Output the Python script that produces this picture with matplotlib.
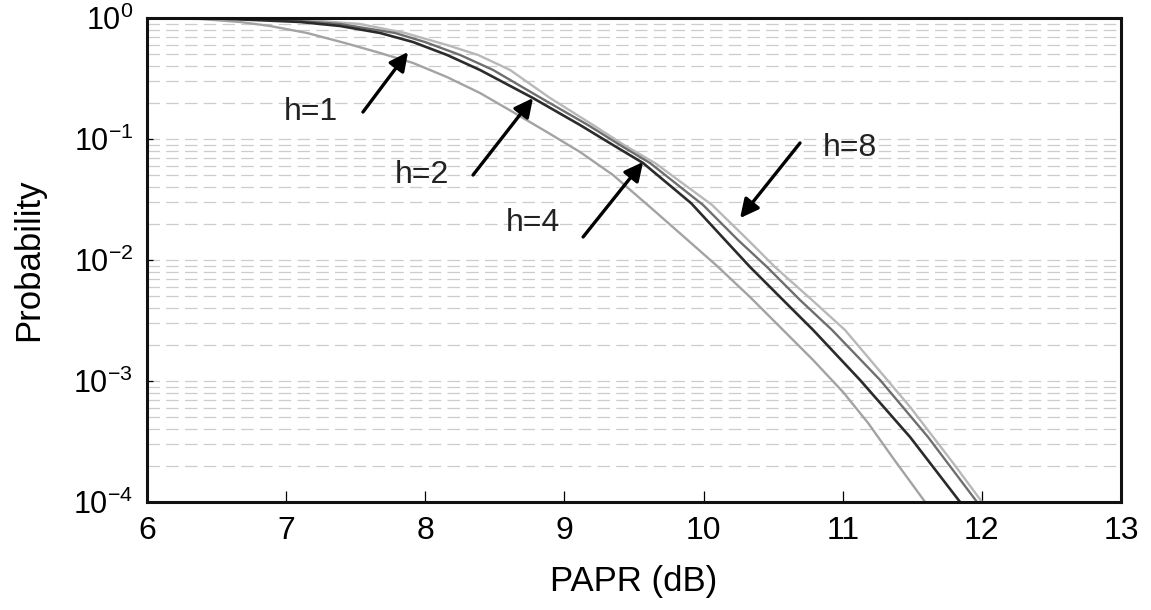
import matplotlib
matplotlib.use('Agg')
import matplotlib.pyplot as plt
from matplotlib.ticker import LogLocator, NullFormatter

plt.rcParams['font.family'] = ['Liberation Sans', 'DejaVu Sans']

# curves: PAPR (dB) and probability
papr_a = [6.000, 6.381, 6.668, 6.884, 7.150, 7.423, 7.675, 7.912, 8.156, 8.393,
          8.630, 8.875, 9.112, 9.349, 9.615, 9.852, 10.097, 10.334, 10.571,
          10.787, 11.002, 11.182, 11.361, 11.592]
prob_a = [1.0, 0.981, 0.927, 0.859, 0.752, 0.621, 0.514, 0.425, 0.325, 0.240,
          0.167, 0.114, 0.0781, 0.0504, 0.0274, 0.0158, 0.00892, 0.00494,
          0.00264, 0.00149, 0.000811, 0.000450, 0.000231, 1e-4]

papr_b = [6.000, 6.525, 7.100, 7.387, 7.675, 7.912, 8.156, 8.393, 8.774, 9.112,
          9.349, 9.565, 9.910, 10.155, 10.334, 10.571, 10.787, 11.124, 11.484, 11.843]
prob_b = [1.0, 0.990, 0.927, 0.859, 0.752, 0.633, 0.495, 0.372, 0.218, 0.1305,
          0.0892, 0.0633, 0.0295, 0.0146, 0.00875, 0.00467, 0.00264, 0.00102,
          0.000344, 1e-4]

papr_c = [6.000, 6.668, 7.100, 7.387, 7.782, 7.998, 8.250, 8.487, 8.832, 9.169,
          9.399, 9.615, 9.996, 10.248, 10.456, 10.693, 10.923, 11.268, 11.613, 11.965]
prob_c = [1.0, 0.990, 0.944, 0.892, 0.752, 0.633, 0.495, 0.372, 0.218, 0.1305,
          0.0892, 0.0633, 0.0285, 0.0146, 0.00875, 0.00467, 0.00264, 0.00102,
          0.000344, 1e-4]

papr_d = [6.000, 6.812, 7.243, 7.531, 7.854, 8.156, 8.379, 8.609, 8.897, 9.206,
          9.428, 9.651, 10.061, 10.320, 10.513, 10.779, 11.016, 11.484, 11.793, 12.001]
prob_d = [1.0, 0.990, 0.944, 0.892, 0.752, 0.598, 0.495, 0.372, 0.218, 0.1305,
          0.0892, 0.0633, 0.0285, 0.0146, 0.00875, 0.00467, 0.00264, 0.000610,
          0.000210, 1e-4]

# arrow labels: text, text position, arrow tail, arrow tip
labels = ['h=1', 'h=2', 'h=4', 'h=8']
text_pos = [(7.179, 0.167), (7.976, 0.0504), (8.774, 0.0202), (11.052, 0.0843)]
tails = [(7.552, 0.167), (8.343, 0.0504), (9.134, 0.0155), (10.693, 0.0927)]
tips = [(7.876, 0.524), (8.774, 0.218), (9.565, 0.0646), (10.262, 0.0222)]

x_ticks = [6, 7, 8, 9, 10, 11, 12, 13]

fig = plt.figure(figsize=(11.51, 6.10), dpi=100)
ax = fig.add_axes([0.1277, 0.177, 0.8463, 0.7935])

ax.plot(papr_a, prob_a, color='#a3a3a3', lw=1.7)
ax.plot(papr_d, prob_d, color='#b8b8b8', lw=1.7)
ax.plot(papr_c, prob_c, color='#6e6e6e', lw=1.7)
ax.plot(papr_b, prob_b, color='#2b2b2b', lw=1.9)

ax.set_yscale('log')
ax.set_xlim(6, 13)
ax.set_ylim(1e-4, 1)
ax.set_xticks(x_ticks)
ax.yaxis.set_major_locator(LogLocator(base=10, numticks=10))
ax.yaxis.set_minor_locator(LogLocator(base=10, subs=range(2, 10), numticks=100))
ax.yaxis.set_minor_formatter(NullFormatter())

ax.grid(True, axis='y', which='both', color='#cccccc', lw=0.9, ls=(0, (10, 5)))
ax.set_axisbelow(True)

ax.tick_params(axis='x', which='major', direction='in', length=8, width=0.9,
               labelsize=23, pad=10)
ax.tick_params(axis='y', which='major', direction='in', length=4, width=0.9,
               labelsize=22, pad=10)
ax.tick_params(axis='y', which='minor', length=0)
for s in ax.spines.values():
    s.set_linewidth(2.2)
    s.set_color('#111111')

ax.set_xlabel('PAPR (dB)', fontsize=25, labelpad=14)
ax.set_ylabel('Probability', fontsize=25, labelpad=20)

for lab, tp, tl, tip in zip(labels, text_pos, tails, tips):
    ax.annotate('', xy=tip, xytext=tl,
                arrowprops=dict(arrowstyle='-|>', color='black', lw=2.4,
                                mutation_scale=28, shrinkA=0, shrinkB=0))
    ax.text(tp[0], tp[1], lab, fontsize=23, ha='center', va='center',
            color='#222222')

fig.savefig('out.png', dpi=100)
